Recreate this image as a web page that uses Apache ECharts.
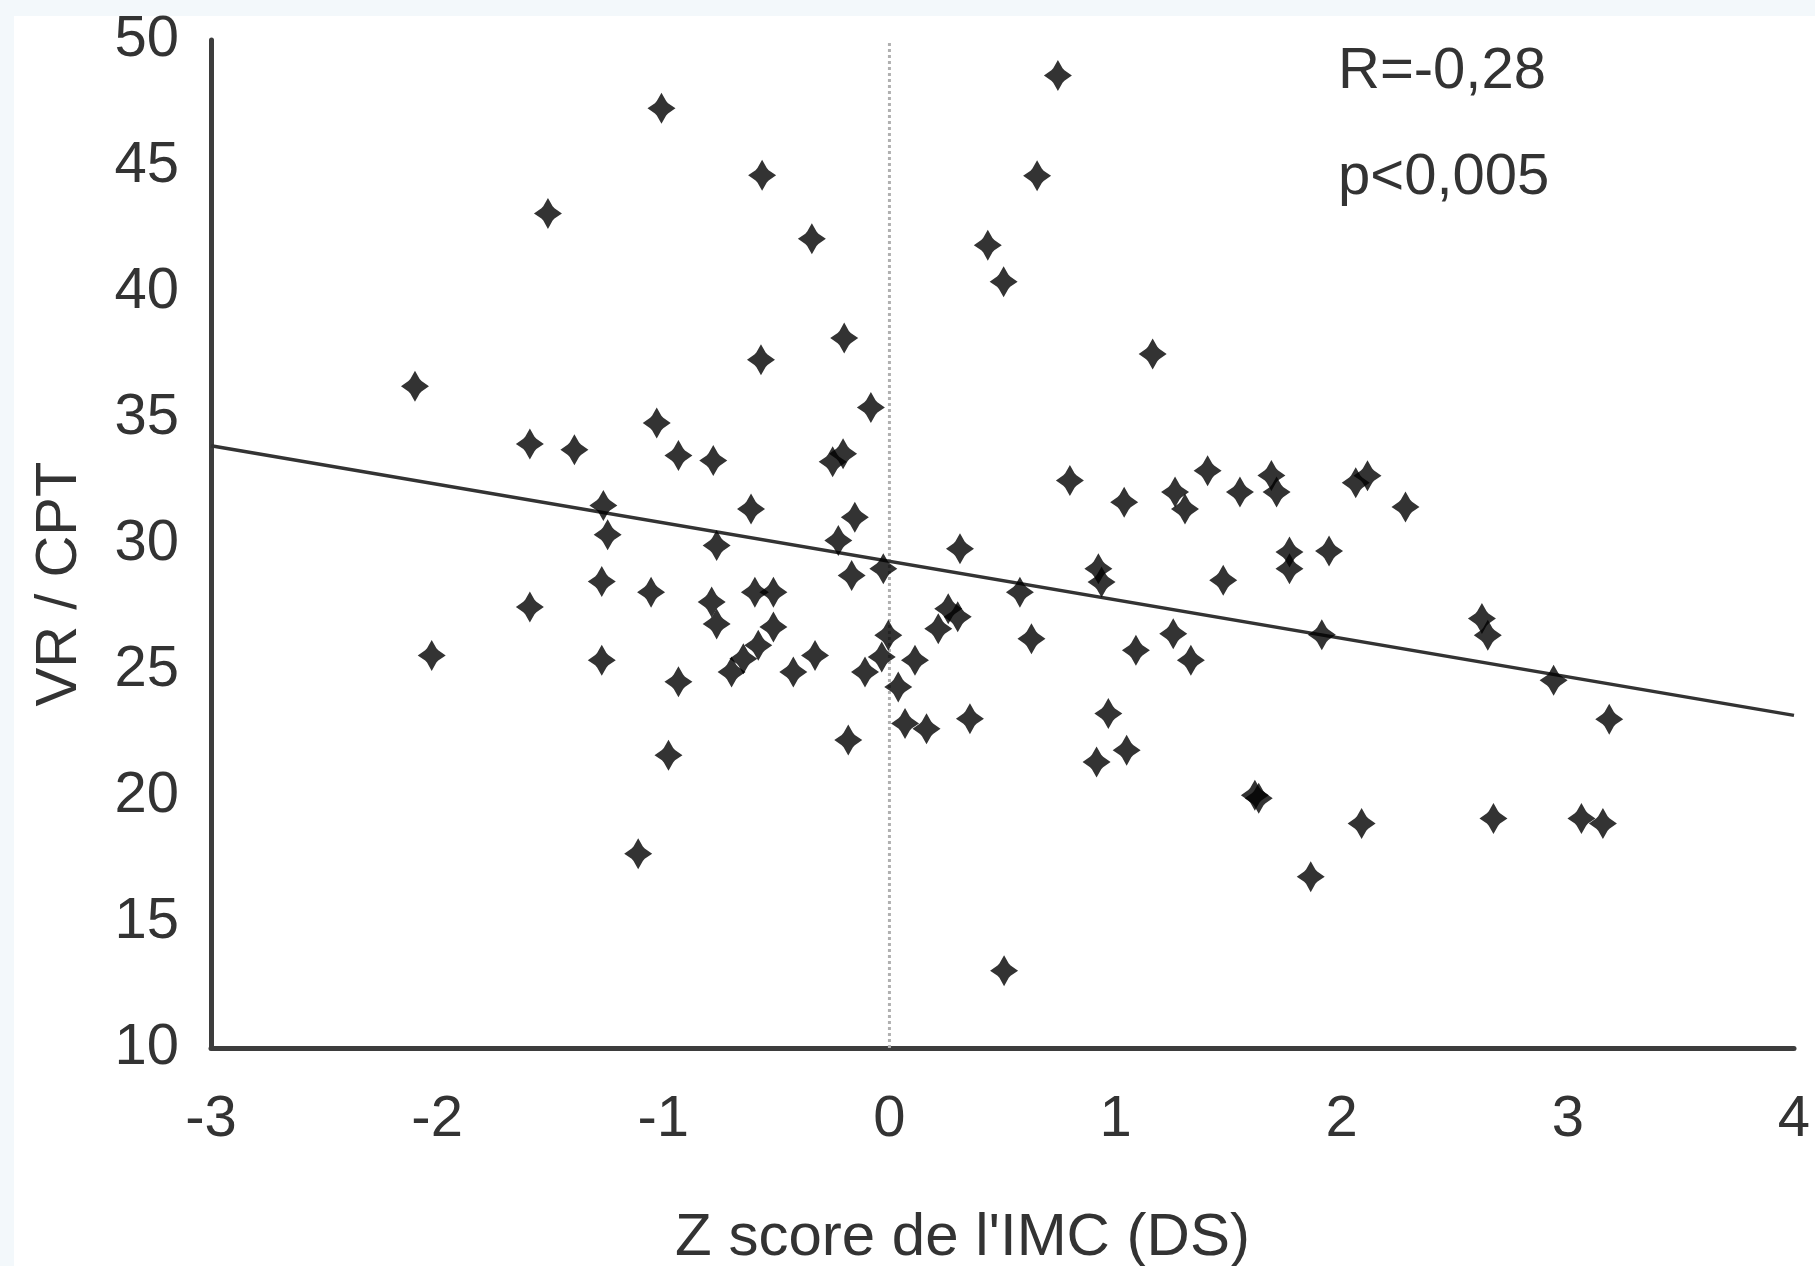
<!DOCTYPE html>
<html>
<head>
<meta charset="utf-8">
<script src="https://cdn.jsdelivr.net/npm/echarts@6/dist/echarts.min.js"></script>
<style>
  html, body { margin: 0; padding: 0; background: #fff; }
  #chart { width: 1815px; height: 1266px; }
</style>
</head>
<body>
<div id="chart"></div>
<script>
// Z score de l'IMC (x) and VR / CPT (y)
const zScore = [
  0.745, -1.008, -0.563, 0.653, -1.510, -0.343, 0.435, 0.505, -0.200, 1.164,
  -0.568, -2.098, -0.082, -1.029, -1.590, -1.393, -0.933, -0.779, -0.205, -0.251,
  0.798, 1.407, 1.689, 1.712, 1.263, 1.307, 1.550, 2.062, 2.114, 2.282,
  1.038, -1.265, -1.246, -0.612, -0.153, -0.764, -0.226, 0.312, 1.944, 1.769,
  1.769, -0.027, -0.167, 0.924, 0.938, -1.272, -1.054, 1.476, 0.577, -1.590,
  -0.786, -0.764, -0.595, -0.513, 0.260, 0.302, 0.216, 2.620, 2.646, -0.005,
  0.628, 1.912, 1.255, -0.513, -0.580, -0.646, -0.698, 1.090, 1.333, -2.024,
  -1.272, -0.425, -0.329, -0.933, -0.108, -0.034, 0.113, 0.039, 0.356, 0.069,
  0.164, -0.182, -0.977, 0.968, 1.049, 0.916, 1.616, 1.633, 2.937, 3.183,
  2.088, 2.671, 3.060, 3.155, 1.863, -1.111, 0.507
];
const vrCpt = [
  48.59, 47.29, 44.63, 44.61, 43.12, 42.11, 41.86, 40.41, 38.17, 37.54,
  37.31, 36.26, 35.42, 34.80, 33.97, 33.74, 33.51, 33.31, 33.58, 33.26,
  32.52, 32.91, 32.72, 32.06, 32.06, 31.39, 32.06, 32.43, 32.71, 31.47,
  31.66, 31.53, 30.37, 31.39, 31.06, 29.94, 30.14, 29.81, 29.72, 29.68,
  29.02, 29.02, 28.75, 29.02, 28.49, 28.51, 28.09, 28.56, 28.09, 27.50,
  27.70, 26.83, 28.09, 28.09, 27.43, 27.11, 26.64, 27.04, 26.38, 26.38,
  26.24, 26.40, 26.44, 26.71, 25.98, 25.45, 24.92, 25.78, 25.39, 25.58,
  25.39, 24.92, 25.58, 24.53, 24.92, 25.52, 25.39, 24.33, 23.07, 22.88,
  22.67, 22.22, 21.62, 23.27, 21.82, 21.35, 20.03, 19.91, 24.59, 23.05,
  18.91, 19.11, 19.11, 18.91, 16.80, 17.71, 13.07
];

// regression line end points
const trendX = [-3, 4];
const trendY = [33.9, 23.2];

// dotted reference line at z = 0
const zeroX = [0, 0];
const zeroY = [10, 50];

const statLines = ['R=-0,28', 'p<0,005'];

const font = '"Liberation Sans", Arial, sans-serif';
const textColor = '#333333';

const chart = echarts.init(document.getElementById('chart'));

chart.setOption({
  animation: false,
  backgroundColor: '#ffffff',
  grid: { left: 211, right: 21, top: 40, bottom: 218, outerBoundsMode: 'none' },
  xAxis: {
    type: 'value',
    min: -3,
    max: 4,
    interval: 1,
    name: "Z score de l'IMC (DS)",
    nameLocation: 'middle',
    nameGap: 160,
    nameTextStyle: { fontFamily: font, fontSize: 60, color: textColor, padding: [0, 80, 0, 0] },
    axisLine: { show: true, onZero: false, lineStyle: { color: '#3d3d3d', width: 5 } },
    axisTick: { show: false },
    splitLine: { show: false },
    axisLabel: { fontFamily: font, fontSize: 58, color: textColor, margin: 43 }
  },
  yAxis: {
    type: 'value',
    min: 10,
    max: 50,
    interval: 5,
    name: 'VR / CPT',
    nameLocation: 'middle',
    nameGap: 122,
    nameTextStyle: { fontFamily: font, fontSize: 58, color: textColor, padding: [0, 80, 0, 0] },
    axisLine: { show: true, onZero: false, lineStyle: { color: '#3d3d3d', width: 5 } },
    axisTick: { show: false },
    splitLine: { show: false },
    axisLabel: { fontFamily: font, fontSize: 58, color: textColor, margin: 32 }
  },
  graphic: [
    { type: 'rect', left: 0, top: 0, z: -10, shape: { width: 1815, height: 16 }, style: { fill: '#f3f8fb' } },
    { type: 'rect', left: 0, top: 0, z: -10, shape: { width: 14, height: 1266 }, style: { fill: '#f3f8fb' } },
    {
      type: 'text', x: 1338, y: 72,
      style: { text: statLines[0], font: '58px ' + font, fill: textColor, verticalAlign: 'middle' }
    },
    {
      type: 'text', x: 1338, y: 178,
      style: { text: statLines[1], font: '58px ' + font, fill: textColor, verticalAlign: 'middle' }
    }
  ],
  series: [
    {
      type: 'line',
      data: zeroX.map((x, i) => [x, zeroY[i]]),
      showSymbol: false,
      silent: true,
      lineStyle: { color: '#b0b0b0', width: 3, type: [3, 3] },
      z: 1
    },
    {
      type: 'line',
      data: trendX.map((x, i) => [x, trendY[i]]),
      showSymbol: false,
      silent: true,
      lineStyle: { color: '#333333', width: 3.5 },
      z: 2
    },
    {
      type: 'scatter',
      data: zScore.map((x, i) => [x, vrCpt[i]]),
      symbol: 'path://M0,-15 L5,-7 L7,-5 L15,0 L7,5 L5,7 L0,15 L-5,7 L-7,5 L-15,0 L-7,-5 L-5,-7 Z',
      symbolSize: [28, 31],
      itemStyle: { color: '#000000' },
      z: 3
    }
  ]
});
</script>
</body>
</html>
